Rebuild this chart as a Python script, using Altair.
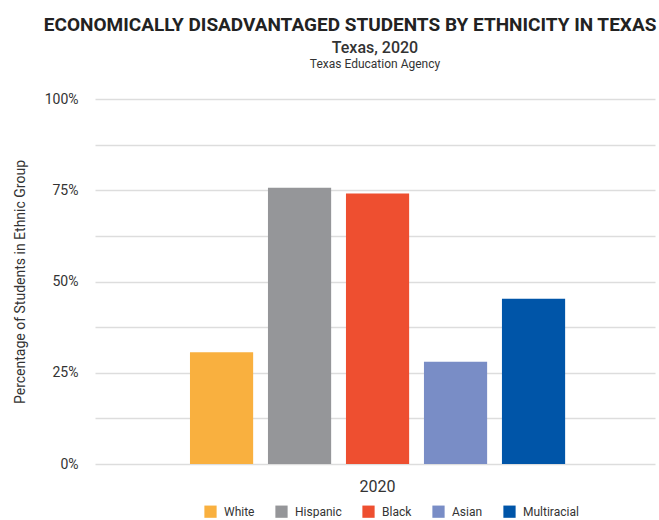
import altair as alt
import pandas as pd

years = ["2020", "2020", "2020", "2020", "2020"]
ethnicities = ["White", "Hispanic", "Black", "Asian", "Multiracial"]
shares = [0.306, 0.757, 0.741, 0.280, 0.453]
colors = ["#F9B03F", "#959699", "#EE4F30", "#798DC6", "#0055A8"]
y_ticks = [0, 0.125, 0.25, 0.375, 0.5, 0.625, 0.75, 0.875, 1.0]

df = pd.DataFrame({"Year": years, "Ethnicity": ethnicities, "Share": shares})

FONT = "Roboto"

bars = alt.Chart(df).mark_bar().encode(
    x=alt.X("Year:N", title=None,
            scale=alt.Scale(paddingInner=0, paddingOuter=0.218, align=0.515),
            axis=alt.Axis(labelAngle=0, ticks=False, domain=False, grid=False, labelFontSize=16,
                          labelColor="#333333", labelFont=FONT, labelPadding=14)),
    xOffset=alt.XOffset("Ethnicity:N", sort=ethnicities,
                        scale=alt.Scale(paddingInner=0.19, paddingOuter=0.095)),
    y=alt.Y("Share:Q", title="Percentage of Students in Ethnic Group",
            scale=alt.Scale(domain=[0, 1], nice=False),
            axis=alt.Axis(values=y_ticks,
                          labelExpr="datum.value % 0.25 == 0 ? format(datum.value, '.0%') : ''",
                          ticks=False, domain=False, labelFontSize=14, labelColor="#333333",
                          labelFont=FONT, labelPadding=17, titleFont=FONT, titleFontSize=14,
                          titleFontWeight="normal", titleColor="#333333", titlePadding=17,
                          gridColor="#dddddd", gridWidth=1.5)),
    color=alt.Color("Ethnicity:N", sort=ethnicities,
                    scale=alt.Scale(domain=ethnicities, range=colors),
                    legend=alt.Legend(title=None, orient="none", direction="horizontal",
                                      legendX=109, legendY=406,
                                      symbolType="square", symbolSize=150, symbolStrokeWidth=0,
                                      labelFontSize=12, labelFont=FONT, labelColor="#333333",
                                      columnPadding=20, symbolOffset=0, labelOffset=7)),
).properties(
    width=560, height=365,
    title=alt.TitleParams(text="Texas, 2020", subtitle="Texas Education Agency",
                          font=FONT, fontSize=16, fontWeight=500, color="#333333",
                          subtitleFont=FONT, subtitleFontSize=12, subtitleColor="#333333",
                          subtitlePadding=3, anchor="middle", offset=22),
)

chart = alt.vconcat(bars).properties(
    title=alt.TitleParams(text="ECONOMICALLY DISADVANTAGED STUDENTS BY ETHNICITY IN TEXAS",
                          font=FONT, fontSize=19, fontWeight="bold", color="#222222",
                          anchor="middle", offset=3, dx=16, dy=-2),
    padding={"left": 13, "top": 16, "right": 2, "bottom": 0},
).configure_view(stroke=None)

chart.save("out.html", embed_options={"renderer": "svg", "actions": False})
